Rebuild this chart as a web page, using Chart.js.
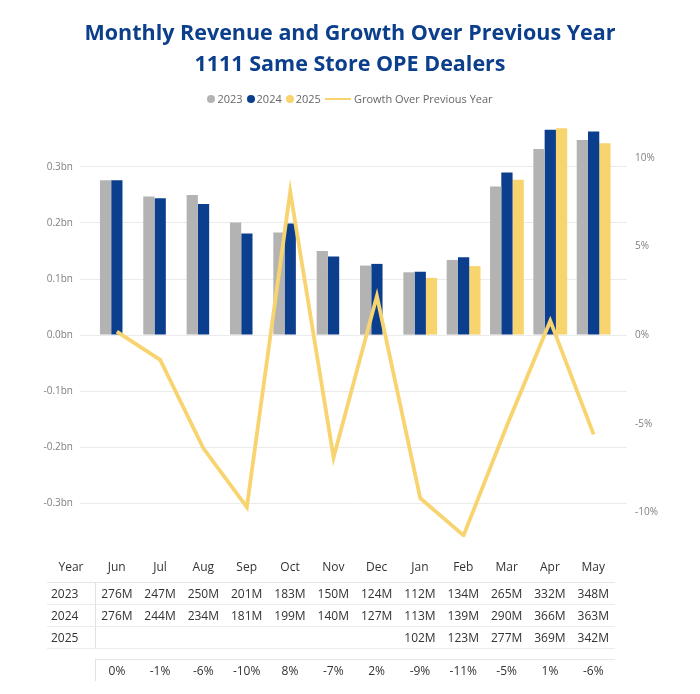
<!DOCTYPE html>
<html>
<head>
<meta charset="utf-8">
<script src="https://cdn.jsdelivr.net/npm/chart.js@4.4.1/dist/chart.umd.min.js"></script>
<style>
  body { margin: 0; background: #fff; font-family: "Open Sans", sans-serif; }
  #wrap { position: relative; width: 700px; height: 694px; overflow: hidden; }
  #title { position: absolute; left: 0; top: 16px; width: 700px; text-align: center;
           color: #0b3f8c; font-weight: 700; font-size: 21.5px; line-height: 31px; }
  #legend { position: absolute; left: 0; top: 89px; width: 700px; text-align: center;
            font-size: 11px; color: #666; white-space: nowrap; }
  #legend span.item { display: inline-block; margin: 0 2px; vertical-align: middle; }
  #legend i.dot { display: inline-block; width: 8px; height: 8px; border-radius: 50%; margin-right: 2px; vertical-align: -0px; }
  #legend i.ln { display: inline-block; width: 26px; height: 2px; margin-right: 3px; vertical-align: 3px; }
  #box { position: absolute; left: 0; top: 1px; width: 700px; height: 550px; }
  #tbl { position: absolute; left: 47px; top: 550px; width: 568px; border-collapse: collapse;
         table-layout: fixed; font-size: 12px; color: #333; }
  #tbl th { font-weight: 400; height: 32px; padding: 0; text-align: center; border-bottom: 1px solid #e6e6e6; }
  #tbl td { padding: 0; height: 21px; text-align: center; }
  #tbl tr.yr td { border-bottom: 1px solid #ececec; }
  #tbl tr.yr:last-child td { border-bottom: none; }
  #tbl td.first { text-align: left; padding-left: 4px; border-right: 1px solid #e2e2e2; }
  #tbl tr.gap td { height: 10px; border: none; }
  #tbl tr.gr td { border-top: 1px solid #e6e6e6; }
  #tbl tr.gr td.first { border-top: none; }
</style>
</head>
<body>
<div id="wrap">
  <div id="box"><canvas id="chart"></canvas></div>
  <div id="title">Monthly Revenue and Growth Over Previous Year<br>1111 Same Store OPE Dealers</div>
  <div id="legend"></div>
  <table id="tbl"></table>
</div>
<script>
// data (revenue in millions, growth in %)
const months = ['Jun','Jul','Aug','Sep','Oct','Nov','Dec','Jan','Feb','Mar','Apr','May'];
const years = ['2023', '2024', '2025'];
const rev2023 = [276, 247, 250, 201, 183, 150, 124, 112, 134, 265, 332, 348];
const rev2024 = [276, 244, 234, 181, 199, 140, 127, 113, 139, 290, 366, 363];
const rev2025 = [null, null, null, null, null, null, null, 102, 123, 277, 369, 342];
const growth  = [0.2, -1.4, -6.4, -9.7, 8.1, -6.9, 2.2, -9.2, -11.3, -5.1, 0.8, -5.6];
const growthLabel = 'Growth Over Previous Year';
const leftTicks = [-300, -200, -100, 0, 100, 200, 300];
const rightTicks = [-10, -5, 0, 5, 10];

const colors = ['#b3b3b3', '#0b3f8e', '#f8d46e'];
const lineColor = '#f8d470';

// axis ranges: left in M, right in %, zero lines line up
const leftMin = -360, leftMax = 380;
const mPerPct = 31.6;

const revs = [rev2023, rev2024, rev2025];
const pts = arr => arr.map((v, i) => ({ x: i, y: v }));

const datasets = [{
  type: 'line', label: growthLabel, data: pts(growth), yAxisID: 'y1',
  borderColor: lineColor, borderWidth: 3.8, pointRadius: 0, tension: 0, order: 0
}];
years.forEach((y, k) => {
  datasets.push({
    type: 'bar', label: y, data: pts(revs[k]), yAxisID: 'y',
    backgroundColor: colors[k], categoryPercentage: 0.78, barPercentage: 1, order: 1
  });
});

new Chart(document.getElementById('chart'), {
  data: { datasets },
  options: {
    responsive: true, maintainAspectRatio: false, animation: false,
    layout: { padding: { top: 121, bottom: 12, left: 0, right: 0 } },
    plugins: { legend: { display: false }, tooltip: { enabled: false } },
    scales: {
      x: { type: 'linear', display: false, offset: false, min: -0.85, max: 11.77 },
      y: {
        position: 'left', min: leftMin, max: leftMax,
        afterBuildTicks: s => { s.ticks = leftTicks.map(v => ({ value: v })); },
        afterFit: s => { s.width = 80; },
        border: { display: false },
        grid: { color: '#ebebeb', drawTicks: false },
        ticks: { padding: 7, color: '#808080', font: { family: 'Open Sans', size: 10 },
                 callback: v => (v / 1000).toFixed(1) + 'bn' }
      },
      y1: {
        position: 'right', min: leftMin / mPerPct, max: leftMax / mPerPct,
        afterBuildTicks: s => { s.ticks = rightTicks.map(v => ({ value: v })); },
        afterFit: s => { s.width = 73; },
        border: { display: false },
        grid: { display: false, drawTicks: false },
        ticks: { padding: 8, color: '#808080', font: { family: 'Open Sans', size: 10 },
                 callback: v => v + '%' }
      }
    }
  }
});

// legend
const lg = document.getElementById('legend');
years.forEach((y, k) => {
  lg.insertAdjacentHTML('beforeend', `<span class="item"><i class="dot" style="background:${colors[k]}"></i>${y}</span>`);
});
lg.insertAdjacentHTML('beforeend', `<span class="item"><i class="ln" style="background:${lineColor}"></i>${growthLabel}</span>`);

// table under the chart
const tbl = document.getElementById('tbl');
let html = '<colgroup><col style="width:48px">' + months.map(() => '<col>').join('') + '</colgroup>';
html += '<thead><tr><th>Year</th>' + months.map(m => `<th>${m}</th>`).join('') + '</tr></thead><tbody>';
years.forEach((y, k) => {
  html += `<tr class="yr"><td class="first">${y}</td>` +
    revs[k].map(v => `<td>${v == null ? '' : v + 'M'}</td>`).join('') + '</tr>';
});
html += '<tr class="gap"><td colspan="13"></td></tr>';
html += '<tr class="gr"><td class="first"></td>' + growth.map(g => `<td>${Math.round(g) || 0}%</td>`).join('') + '</tr>';
html += '</tbody>';
tbl.innerHTML = html;
</script>
</body>
</html>
